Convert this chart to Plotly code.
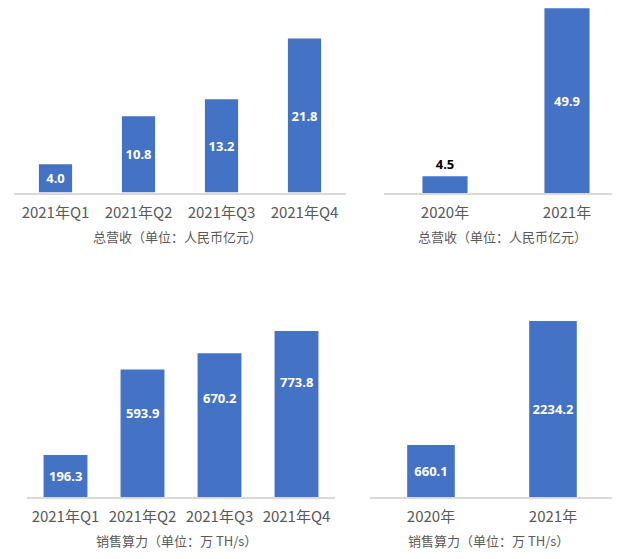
import plotly.graph_objects as go

W, H = 620, 559
OFF = 8  # default page body margin offset

q_categories = ["2021年Q1", "2021年Q2", "2021年Q3", "2021年Q4"]
y_categories = ["2020年", "2021年"]
revenue_q = [4.0, 10.8, 13.2, 21.8]
revenue_y = [4.5, 49.9]
hash_q = [196.3, 593.9, 670.2, 773.8]
hash_y = [660.1, 2234.2]
title_revenue = "总营收（单位：人民币亿元）"
title_hash = "销售算力（单位：万 TH/s）"

BLUE = "#4472C4"
TICK = "#595959"
LINE = "#D9D9D9"
FONT = "Noto Sans CJK SC, Microsoft YaHei, sans-serif"
LABFONT = "Noto Sans, Arial, sans-serif"

def px_x(a, b):
    return [max(0, (a - OFF) / W), min(1, (b - OFF) / W)]

def px_y(top, bottom):
    return [(H - (bottom - OFF)) / H, min(1, (H - (top - OFF)) / H)]

fig = go.Figure()

# pixel scales (px per unit)
panels = [
    # xaxis, yaxis, cats, vals, xdom px(page), ydom px(page), px_per_unit, width, textpos, label frac
    ("x", "y", q_categories, revenue_q, (14, 346), (8, 192.5), 7.06, 0.40, ["inside"] * 4, None),
    ("x2", "y2", y_categories, revenue_y, (384, 628), (8, 193), 3.77, 0.37, ["outside", "inside"], None),
    ("x3", "y3", q_categories, hash_q, (27, 335), (300, 497), 0.2145, 0.57, ["none"] * 4, [0.5, 0.66, 0.69, 0.69]),
    ("x4", "y4", y_categories, hash_y, (370, 614), (300, 497), 0.0788, 0.39, ["inside", "inside"], None),
]

for i, (xa, ya, cats, vals, xd, yd, ppu, bw, tp, lf) in enumerate(panels):
    colors = ["#000000" if p == "outside" else "#FFFFFF" for p in tp]
    fig.add_trace(go.Bar(
        x=cats, y=vals, xaxis=xa, yaxis=ya,
        marker=dict(color=BLUE, line=dict(width=0)),
        width=bw,
        text=[f"{v:.1f}" for v in vals],
        textposition=tp,
        insidetextanchor="middle",
        textangle=0,
        constraintext="none",
        cliponaxis=False,
        textfont=dict(family=LABFONT, size=13, color=colors, weight="bold"),
        showlegend=False,
        hoverinfo="skip",
    ))
    if lf is not None:
        for c, v, f in zip(cats, vals, lf):
            fig.add_annotation(
                x=c, y=v * f, xref=xa, yref=ya, text=f"{v:.1f}", showarrow=False,
                font=dict(family=LABFONT, size=13, color="#FFFFFF", weight="bold"),
            )
    sfx = "" if i == 0 else str(i + 1)
    x0, x1 = xd
    n = len(cats)
    step = (x1 - x0) / n
    visible_right = min(x1, W + OFF)
    xr = [-0.5, -0.5 + (visible_right - x0) / step]
    plot_h = (yd[1] - max(yd[0], OFF))
    ymax = max(plot_h / ppu, max(vals) * 1.001)
    fig.layout["xaxis" + sfx] = dict(
        domain=px_x(x0, visible_right), anchor="y" + sfx, range=xr,
        showline=True, linecolor=LINE, linewidth=2,
        showgrid=False, zeroline=False, ticks="",
        tickfont=dict(family=FONT, size=15, color=TICK),
        ticklabelstandoff=5,
        fixedrange=True,
    )
    fig.layout["yaxis" + sfx] = dict(
        domain=px_y(*yd), anchor="x" + sfx,
        range=[0, ymax], visible=False, showgrid=False, fixedrange=True,
    )

titles = [
    (title_revenue, 177, 236),
    (title_revenue, 502, 236),
    (title_hash, 176, 540),
    (title_hash, 488, 540),
]
for t, cx, cy in titles:
    fig.add_annotation(
        text=t, x=(cx - OFF) / W, y=(H - (cy - OFF)) / H, xref="paper", yref="paper",
        xanchor="center", yanchor="middle", showarrow=False,
        font=dict(family=FONT, size=13, color=TICK),
    )

fig.update_layout(
    width=W, height=H,
    margin=dict(l=0, r=0, t=0, b=0),
    paper_bgcolor="white", plot_bgcolor="white",
    bargap=0.5,
)

fig.write_html("out.html")
